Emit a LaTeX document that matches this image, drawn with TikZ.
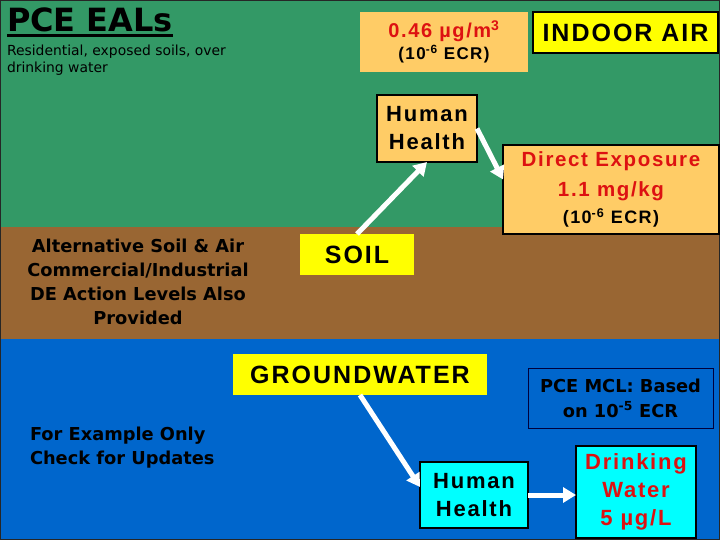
\documentclass[tikz,border=0pt]{standalone}
\usepackage{fontspec}
\setmainfont{DejaVu Sans}
\newfontfamily\arb{Liberation Sans}[LetterSpace=8]
\usetikzlibrary{arrows.meta}
\definecolor{gr}{RGB}{51,153,102}
\definecolor{br}{RGB}{153,102,51}
\definecolor{bl}{RGB}{0,102,204}
\definecolor{boxtan}{RGB}{255,204,102}
\definecolor{yel}{RGB}{255,255,0}
\definecolor{cy}{RGB}{0,255,255}
\definecolor{rd}{RGB}{221,17,17}
\definecolor{mclborder}{RGB}{0,0,60}
\begin{document}
\begin{tikzpicture}[x=1pt,y=-1pt,
  every node/.style={inner sep=0pt, outer sep=0pt},
  abox/.style={align=center, font=\arb\bfseries\fontsize{22}{28}\selectfont},
  bordered/.style={draw=black, line width=2pt},
  tahb/.style={font=\bfseries\fontsize{17.8}{24}\selectfont},
  flow/.style={white, line width=5pt, -{Triangle[length=13pt,width=15pt]}, shorten >=0pt}
]
\useasboundingbox (0,0) rectangle (720,540);
% layers
\fill[gr] (0,0) rectangle (720,227);
\fill[br] (0,227) rectangle (720,339);
\fill[bl] (0,339) rectangle (720,540);
\draw[line width=1.5pt, black!85] (0,0) rectangle (720,540);

% left texts
\node[anchor=base west, font=\bfseries\fontsize{32}{36}\selectfont] (title) at (7,32)
  {\vtop{\hbox{PCE EALs}\kern2pt\hrule height 2.5pt}};
\node[anchor=north west, align=left, font=\fontsize{13.9}{17}\selectfont] (resid) at (7,44.5)
  {Residential, exposed soils, over\\drinking water};
\node[tahb, align=center] (alt) at (138,282)
  {Alternative Soil \& Air\\Commercial/Industrial\\DE Action Levels Also\\Provided};
\node[tahb, align=left, anchor=west] (example) at (30,448)
  {For Example Only\\Check for Updates};

% top boxes
\node[fill=boxtan, minimum width=168pt, minimum height=60pt, align=center] (eal) at (444,42)
  {{\arb\bfseries\fontsize{20}{27}\selectfont\color{rd}0.46 µg/m\textsuperscript{3}}\\[2pt]
   {\arb\bfseries\fontsize{17}{20}\selectfont(10\textsuperscript{-6} ECR)}};
\node[abox, bordered, fill=yel, minimum width=185pt, minimum height=41pt,
  font=\arb\bfseries\fontsize{25}{28}\selectfont] (air) at (625.5,32.5) {INDOOR AIR};
\node[abox, bordered, fill=boxtan, minimum width=100pt, minimum height=67pt] (hh1) at (427,128.5)
  {Human\\Health};
\node[abox, bordered, fill=boxtan, minimum width=216pt, minimum height=89pt, text=rd,
  font=\arb\bfseries\fontsize{20.5}{30}\selectfont] (de) at (611,189.5)
  {Direct Exposure\\1.1 mg/kg\\[-3pt]{\fontsize{18}{22}\selectfont\color{black}(10\textsuperscript{-6} ECR)}};

% soil
\node[abox, fill=yel, minimum width=114pt, minimum height=41pt,
  font=\arb\bfseries\fontsize{25}{28}\selectfont] (soil) at (357,254.5) {SOIL};

% groundwater
\node[abox, fill=yel, minimum width=254pt, minimum height=41pt,
  font=\arb\bfseries\fontsize{25}{28}\selectfont] (gw) at (360,374.5) {GROUNDWATER};
\node[tahb, align=center, draw=mclborder, line width=1pt, minimum width=185pt, minimum height=60pt,
  font=\bfseries\fontsize{17.8}{25}\selectfont] (mcl) at (620.5,398)
  {PCE MCL: Based\\on 10\textsuperscript{-5} ECR};
\node[abox, bordered, fill=cy, minimum width=108pt, minimum height=66pt] (hh2) at (474,495)
  {Human\\Health};
\node[abox, bordered, fill=cy, minimum width=120pt, minimum height=92pt, text=rd] (dw) at (636,492)
  {Drinking\\Water\\5 µg/L};

% connectors
\draw[flow] (soil.north) -- (hh1.south);
\draw[flow] (hh1.east) -- ([yshift=10pt]de.west);
\draw[flow] (gw.south) -- ([yshift=8pt]hh2.west);
\draw[flow] (hh2.east) -- (hh2.east -| dw.west);
\end{tikzpicture}
\end{document}
